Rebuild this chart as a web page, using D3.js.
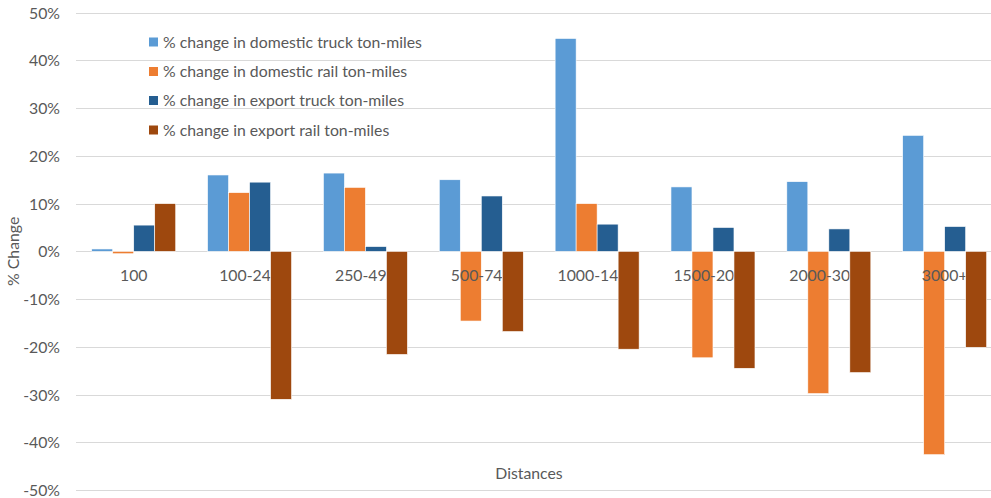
<!DOCTYPE html>
<html><head><meta charset="utf-8">
<script src="https://cdn.jsdelivr.net/npm/d3@7"></script>
<style>body{margin:0;background:#fff;} text{font-family:Lato, "Open Sans", sans-serif;}</style>
</head><body>
<svg id="c" width="991" height="498"></svg>
<script>
const categories = ["100","100-249","250-499","500-749","1000-1499","1500-2000","2000-3000","3000+"];
const seriesNames = ["% change in domestic truck ton-miles","% change in domestic rail ton-miles","% change in export truck ton-miles","% change in export rail ton-miles"];
const domesticTruck = [0.5, 16.0, 16.4, 15.0, 44.6, 13.5, 14.6, 24.3];
const domesticRail  = [-0.5, 12.3, 13.4, -14.6, 10.0, -22.3, -29.8, -42.6];
const exportTruck   = [5.5, 14.5, 1.0, 11.6, 5.7, 5.0, 4.7, 5.2];
const exportRail    = [10.0, -31.0, -21.6, -16.8, -20.5, -24.5, -25.4, -20.1];
const yTicks = [-50,-40,-30,-20,-10,0,10,20,30,40,50];
const colors = ["#5B9BD5","#ED7D31","#255E91","#9E480E"];
const series = [domesticTruck, domesticRail, exportTruck, exportRail];

(function(){
const svg = d3.select("#c");
const pL = 75.8, pR = 1002.6, pT = 12.7, pB = 490, gridR = 991;
const FS = 15.8;
const y = d3.scaleLinear().domain([-50,50]).range([pB, pT]);
const x0 = d3.scaleBand().domain(categories).range([pL, pR]).paddingInner(0).paddingOuter(0);

// gridlines
svg.append("g").selectAll("line").data(yTicks).join("line")
  .attr("x1", 76).attr("x2", gridR)
  .attr("y1", d => Math.round(y(d))+0.5).attr("y2", d => Math.round(y(d))+0.5)
  .attr("stroke", "#D9D9D9").attr("stroke-width", 1);

// y axis labels
const yAxis = d3.axisLeft(y).tickValues(yTicks).tickFormat(d => d + "%").tickSize(0).tickPadding(0);
const ya = svg.append("g").attr("transform", `translate(60,0)`).call(yAxis);
ya.select(".domain").remove();
ya.selectAll("text").attr("font-family","Lato, sans-serif").attr("font-size",FS).attr("fill","#595959").attr("dy","0.35em");

const bw = 21;
const groupW = bw*4;
function drawSeries(si){
  svg.append("g").selectAll("rect").data(series[si]).join("rect")
    .attr("x", (d,i) => x0(categories[i]) + (x0.bandwidth()-groupW)/2 + si*bw)
    .attr("width", bw)
    .attr("y", d => y(Math.max(0,d)))
    .attr("height", d => Math.abs(y(d)-y(0)))
    .attr("fill", colors[si])
    .attr("stroke", "#fff").attr("stroke-width", 0.6);
}
drawSeries(0); drawSeries(1); drawSeries(2);

// x category labels
const xAxis = d3.axisBottom(x0).tickSize(0).tickPadding(0);
const xa = svg.append("g").attr("transform", `translate(0,${y(0)+24})`).call(xAxis);
xa.select(".domain").remove();
xa.selectAll("text").attr("font-family","Lato, sans-serif").attr("font-size",FS).attr("fill","#595959").attr("dy","0.35em");

drawSeries(3);

// axis titles
svg.append("text").attr("x", 529).attr("y", 479).attr("text-anchor","middle")
  .attr("font-size",FS).attr("fill","#595959").text("Distances");
svg.append("text").attr("transform", `translate(19,${y(0)}) rotate(-90)`).attr("text-anchor","middle")
  .attr("font-size",FS).attr("fill","#595959").text("% Change");

// legend
const legY = [42, 71.5, 100.5, 130];
const lg = svg.append("g");
seriesNames.forEach((n, i) => {
  lg.append("rect").attr("x", 149).attr("y", legY[i]-4.5).attr("width", 9).attr("height", 9).attr("fill", colors[i]);
  lg.append("text").attr("x", 163).attr("y", legY[i]).attr("dy","0.35em")
    .attr("font-size",FS).attr("fill","#595959").text(n);
});
})();
</script>
</body></html>
